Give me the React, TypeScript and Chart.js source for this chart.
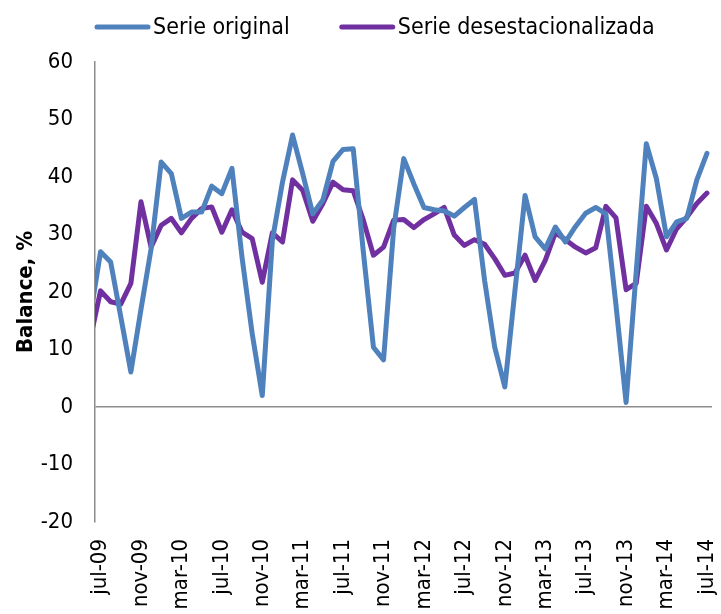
import React, { useEffect, useRef } from 'react';
import { Chart, registerables } from 'chart.js';

Chart.register(...registerables);

const FONT = "'DejaVu Sans Condensed', 'DejaVu Sans', sans-serif";

// x-axis tick labels, one every 4 months starting jul-09 (index 0)
const tickLabels = [
  'jul-09', 'nov-09', 'mar-10', 'jul-10', 'nov-10', 'mar-11', 'jul-11', 'nov-11',
  'mar-12', 'jul-12', 'nov-12', 'mar-13', 'jul-13', 'nov-13', 'mar-14', 'jul-14',
];
const tickStep = 4;
// first value belongs to jun-09, one month before jul-09
const firstIndex = -1;

const seriesNames = ['Serie original', 'Serie desestacionalizada'];
const seriesColors = ['#4F81BD', '#7030A0'];

// jun-09 .. jul-14
const serieOriginal = [
  16, 27.0, 25.2, 15.7, 6.1, 17.0, 27.5, 42.6, 40.6, 32.8, 33.9, 33.9,
  38.4, 37.1, 41.5, 26.0, 12.8, 2.0, 29.0, 39.1, 47.3, 40.6, 33.6, 36.0,
  42.7, 44.8, 44.9, 27.0, 10.4, 8.2, 31.0, 43.2, 38.8, 34.7, 34.3, 34.1,
  33.2, 34.7, 36.1, 22.0, 10.4, 3.5, 20.2, 36.8, 29.6, 27.5, 31.3, 28.7,
  31.4, 33.7, 34.7, 33.6, 17.7, 0.8, 23.5, 45.8, 39.7, 29.6, 32.2, 32.8,
  39.5, 44.1,
];

const serieDesest = [
  12, 20.2, 18.3, 17.9, 21.5, 35.7, 27.8, 31.6, 32.8, 30.3, 32.8, 34.5,
  34.8, 30.4, 34.3, 30.4, 29.3, 21.7, 30.3, 28.7, 39.5, 37.7, 32.3, 35.4,
  39.1, 37.8, 37.6, 32.5, 26.4, 27.8, 32.5, 32.6, 31.2, 32.6, 33.6, 34.7,
  29.9, 28.1, 29.1, 28.3, 25.8, 22.9, 23.3, 26.4, 22.0, 25.5, 30.3, 29.1,
  27.8, 26.8, 27.7, 34.9, 32.9, 20.4, 21.5, 34.9, 31.9, 27.3, 31.0, 33.0,
  35.4, 37.2,
];

const yMin = -20;
const yMax = 60;
const yStep = 10;

const toPoints = (arr: number[]) => arr.map((v, i) => ({ x: i + firstIndex, y: v }));

const legendPlugin = {
  id: 'customLegend',
  afterDraw(chart: any) {
    const ctx = chart.ctx as CanvasRenderingContext2D;
    const area = chart.chartArea;
    ctx.save();
    ctx.font = `23px ${FONT}`;
    ctx.textBaseline = 'middle';
    ctx.textAlign = 'left';
    const y = 27;
    let x = area.left;
    const lineLen = 55;
    const textGap = 3;
    const itemGap = 50;
    seriesNames.forEach((name, i) => {
      ctx.strokeStyle = seriesColors[i];
      ctx.lineWidth = 5;
      ctx.lineCap = 'round';
      ctx.beginPath();
      ctx.moveTo(x + 2, y);
      ctx.lineTo(x + lineLen - 2, y);
      ctx.stroke();
      ctx.fillStyle = '#000';
      ctx.fillText(name, x + lineLen + textGap, y + 1);
      x += lineLen + textGap + ctx.measureText(name).width + itemGap;
    });
    ctx.restore();
  },
};

export default function App() {
  const ref = useRef<HTMLCanvasElement | null>(null);

  useEffect(() => {
    if (!ref.current) return;
    const chart = new Chart(ref.current, {
      type: 'line',
      data: {
        datasets: [
          {
            label: seriesNames[0],
            data: toPoints(serieOriginal),
            borderColor: seriesColors[0],
            backgroundColor: seriesColors[0],
            borderWidth: 5,
            pointRadius: 0,
            tension: 0,
            borderJoinStyle: 'round',
            borderCapStyle: 'round',
            clip: 0,
          },
          {
            label: seriesNames[1],
            data: toPoints(serieDesest),
            borderColor: seriesColors[1],
            backgroundColor: seriesColors[1],
            borderWidth: 5,
            pointRadius: 0,
            tension: 0,
            borderJoinStyle: 'round',
            borderCapStyle: 'round',
            clip: 0,
          },
        ],
      },
      options: {
        animation: false,
        responsive: false,
        maintainAspectRatio: false,
        layout: { padding: { top: 62, right: 9, left: 0, bottom: 0 } },
        plugins: {
          legend: { display: false },
          tooltip: { enabled: false },
        },
        scales: {
          x: {
            type: 'linear',
            min: -0.55,
            max: 60.5,
            grid: { display: false, drawTicks: false },
            border: { display: false },
            afterBuildTicks: (s: any) => {
              s.ticks = tickLabels.map((_, k) => ({ value: k * tickStep }));
            },
            ticks: {
              autoSkip: false,
              maxRotation: 90,
              minRotation: 90,
              padding: 17,
              color: '#000',
              font: { family: FONT, size: 22 },
              callback: (v: any) => tickLabels[Math.round(Number(v) / tickStep)] ?? '',
            },
            afterFit: (s: any) => {
              s.height = 92;
              s.paddingLeft = 0;
              s.paddingRight = 0;
            },
          },
          y: {
            min: yMin,
            max: yMax,
            ticks: {
              stepSize: yStep,
              padding: 22,
              color: '#000',
              font: { family: FONT, size: 22 },
            },
            grid: {
              drawTicks: false,
              color: (c: any) => (c.tick && c.tick.value === 0 ? '#8c8c8c' : 'rgba(0,0,0,0)'),
              lineWidth: 1.5,
            },
            border: { display: true, color: '#8c8c8c', width: 1.5 },
            title: {
              display: true,
              text: 'Balance, %',
              color: '#000',
              font: { family: FONT, size: 22, weight: 'bold' },
              padding: { top: 13, bottom: 0 },
            },
            afterFit: (s: any) => {
              s.width = 95;
            },
          },
        },
      } as any,
      plugins: [legendPlugin],
    });
    return () => chart.destroy();
  }, []);

  return (
    <div style={{ position: 'fixed', left: 0, top: 0, width: 721, height: 614, background: '#fff' }}>
      <canvas ref={ref} width={721} height={614} style={{ display: 'block' }} />
    </div>
  );
}
